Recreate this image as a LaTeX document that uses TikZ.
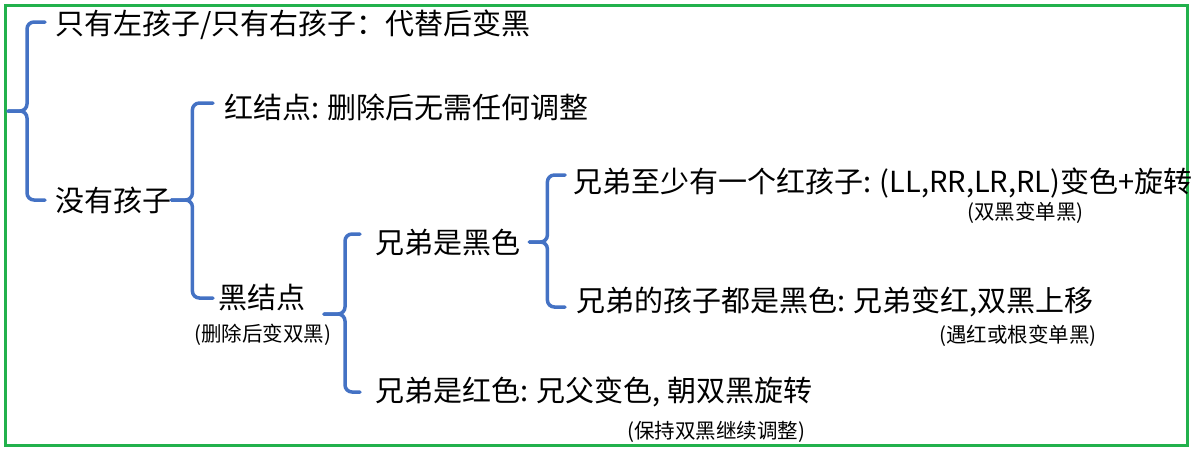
\documentclass[tikz,border=0pt]{standalone}
\usepackage{fontspec}
\setmainfont{Noto Sans CJK SC}
\usepackage{tikz}
\usetikzlibrary{positioning, calc}
\definecolor{bluGraffa}{RGB}{68,114,196}
\definecolor{verdeBordo}{RGB}{34,177,76}
\tikzset{
	testo/.style={anchor=west, inner sep=0pt, font=\fontsize{29}{34}\selectfont},
	nota/.style={anchor=west, inner sep=0pt, font=\fontsize{20.5}{24}\selectfont},
	graffa/.style={draw=bluGraffa, line width=3.5pt, rounded corners=7pt, line cap=round},
}
\begin{document}
\begin{tikzpicture}[x=1pt, y=-1pt]
		
		%Cornice
		\useasboundingbox (0,0) rectangle (1191,451);
		\draw[draw=verdeBordo, line width=3pt] (5,5) rectangle (1187.5,445.5);
		
		%Rappresento i nodi
		\node(soloFiglio) at (55,25) [testo]{只有左孩子/只有右孩子：代替后变黑};
		\node(nessunFiglio) at (55,200) [testo]{没有孩子};
		\node(rosso) at (224,107) [testo]{红结点: 删除后无需任何调整};
		\node(nero) at (218,298) [testo]{黑结点};
		\node(notaNero) at (194,335) [nota]{(删除后变双黑)};
		\node(fratelloNero) at (375,242) [testo]{兄弟是黑色};
		\node(fratelloRosso) at (375,392) [testo]{兄弟是红色: 兄父变色, 朝双黑旋转};
		\node(notaFratelloRosso) at (627,432) [nota]{(保持双黑继续调整)};
		\node(nipoteRosso) at (573,183) [testo]{兄弟至少有一个红孩子: (LL,RR,LR,RL)变色+旋转};
		\node(notaNipoteRosso) at (967,213) [nota]{(双黑变单黑)};
		\node(nipotiNeri) at (576,302) [testo]{兄弟的孩子都是黑色: 兄弟变红,双黑上移};
		\node(notaNipotiNeri) at (939,336) [nota]{(遇红或根变单黑)};
		
		%Punte libere delle graffe
		\coordinate (radice) at (8,111);
		\coordinate (puntaNero) at (324,314);
		
		%Disegno le graffe
		\draw[graffa, shorten >=10pt] (radice) -- ++(19,0) |- ($(soloFiglio.west)+(0,-3)$);
		\draw[graffa, shorten >=10pt] (radice) -- ++(19,0) |- (nessunFiglio.west);
		\draw[graffa, shorten >=11pt] (nessunFiglio.east) -- ++(21,0) |- ($(rosso.west)+(0,-4)$);
		\draw[graffa, shorten >=5pt] (nessunFiglio.east) -- ++(21,0) |- (nero.west);
		\draw[graffa, shorten >=15pt] (puntaNero) -- ++(21,0) |- ($(fratelloNero.west)+(0,-8)$);
		\draw[graffa, shorten >=15pt] (puntaNero) -- ++(21,0) |- (fratelloRosso.west);
		\draw[graffa, shorten <=9pt, shorten >=8pt] (fratelloNero.east) -- ++(27,0) |- ($(nipoteRosso.west)+(0,-8)$);
		\draw[graffa, shorten <=9pt, shorten >=11pt] (fratelloNero.east) -- ++(27,0) |- ($(nipotiNeri.west)+(0,5)$);
		
\end{tikzpicture}
\end{document}
